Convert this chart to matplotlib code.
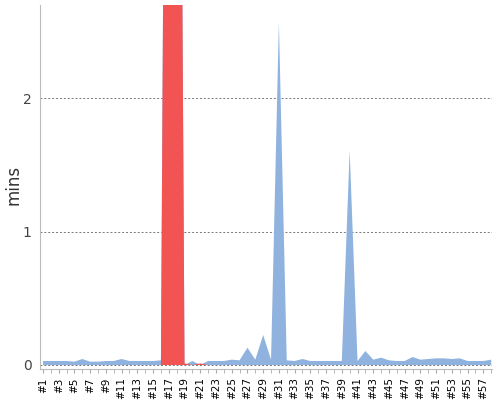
import numpy as np
from matplotlib import pyplot as plt

# build numbers #1 .. #58
builds = list(range(1, 59))
tick_labels = ["#{}".format(i) for i in builds[::2]]

# duration in minutes for each build
durations = [
    0.03, 0.03, 0.03, 0.03, 0.025, 0.045, 0.025, 0.025, 0.03, 0.03,
    0.045, 0.03, 0.03, 0.03, 0.03, 0.035, 10.0, 10.0, 0.0, 0.03,
    0.0, 0.03, 0.03, 0.03, 0.04, 0.035, 0.13, 0.04, 0.225, 0.04,
    2.57, 0.035, 0.03, 0.045, 0.03, 0.03, 0.03, 0.03, 0.03, 1.61,
    0.03, 0.105, 0.04, 0.055, 0.035, 0.03, 0.03, 0.06, 0.04, 0.045,
    0.05, 0.05, 0.045, 0.05, 0.03, 0.03, 0.03, 0.04,
]

# failed builds (None = no failure)
failed = [None] * 15 + [0.0, 10.0, 10.0, 0.012, 0.0, 0.012, 0.0] + [None] * 36

BLUE = "#8fb3de"
RED = "#f25454"


def main():
    fig = plt.figure(figsize=(5, 4), dpi=100)
    ax = fig.add_axes([0.08, 0.0775, 0.904, 0.91])

    x = np.array(builds)
    ax.fill_between(x, 0, np.array(durations), color=BLUE, linewidth=0)
    red = np.array([np.nan if v is None else v for v in failed])
    ax.fill_between(x, 0, red, color=RED, linewidth=0)

    ax.set_xlim(0.62, 58.1)
    ax.set_ylim(-0.03, 2.7)

    ax.set_yticks([0, 1, 2])
    ax.set_yticklabels(["0", "1", "2"])
    ax.yaxis.grid(True, color="#777777", linestyle=(0, (2, 2)), linewidth=0.7)
    ax.set_axisbelow(True)
    ax.tick_params(axis="y", length=0, labelsize=10, labelcolor="#444444", pad=6)

    ax.set_xticks(builds, minor=True)
    ax.set_xticks(builds[::2])
    ax.set_xticklabels(tick_labels, rotation=90, fontsize=7.5)
    ax.tick_params(axis="x", which="both", length=3, color="#aaaaaa", pad=3)

    for side in ["top", "right"]:
        ax.spines[side].set_visible(False)
    ax.spines["left"].set_color("#bbbbbb")
    ax.spines["bottom"].set_color("#bbbbbb")

    fig.text(0.026, 0.5375, "mins", rotation=90, ha="center", va="center",
             fontsize=12, color="#333333")

    fig.savefig("out.png")


if __name__ == '__main__':
    main()
